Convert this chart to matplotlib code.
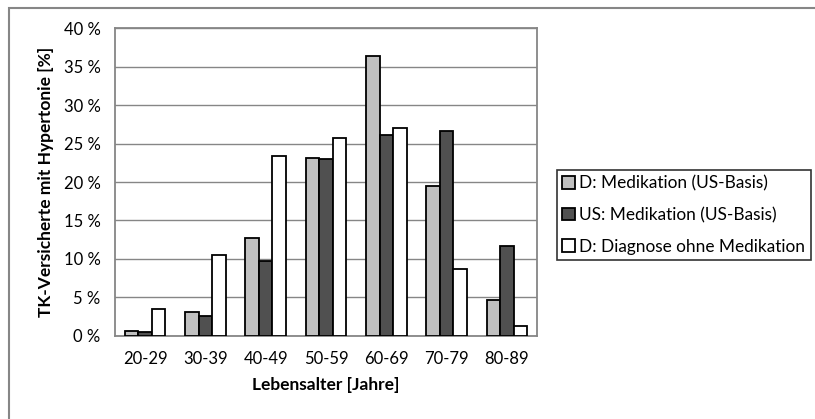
import matplotlib
matplotlib.use("Agg")
import matplotlib.pyplot as plt
from matplotlib.patches import Rectangle
import numpy as np

categories = ["20-29", "30-39", "40-49", "50-59", "60-69", "70-79", "80-89"]
d_medikation = [0.6, 3.1, 12.7, 23.1, 36.4, 19.5, 4.6]
us_medikation = [0.4, 2.5, 9.7, 23.0, 26.1, 26.7, 11.7]
d_diagnose = [3.4, 10.5, 23.4, 25.7, 27.1, 8.7, 1.3]
series_names = ["D: Medikation (US-Basis)", "US: Medikation (US-Basis)",
                "D: Diagnose ohne Medikation"]
series_colors = ["#C0C0C0", "#505050", "#FFFFFF"]
yticks = [0, 5, 10, 15, 20, 25, 30, 35, 40]

plt.rcParams['font.family'] = ['Lato', 'DejaVu Sans']

W, H = 815, 419
fig = plt.figure(figsize=(W / 100, H / 100), dpi=100)

# outer chart border (cropped at right/bottom in the reference)
fig.patches.append(Rectangle((9 / W, -0.1), 1.2, 1 - 8 / H + 0.1,
                             transform=fig.transFigure, fill=False,
                             edgecolor="#868686", linewidth=1.5))

ax = fig.add_axes([115 / W, 1 - 335.5 / H, (537 - 115) / W, (335.5 - 28.5) / H])

x = np.arange(len(categories))
bw = 0.225
data = [d_medikation, us_medikation, d_diagnose]
for i, (vals, name, col) in enumerate(zip(data, series_names, series_colors)):
    ax.bar(x + (i - 1) * bw, vals, width=bw, color=col, edgecolor="black",
           linewidth=1.3, label=name, zorder=3)

ax.set_xlim(-0.5, len(categories) - 0.5)
ax.set_ylim(0, 40)
ax.set_yticks(yticks)
ax.set_yticklabels([f"{t} %" for t in yticks])
ax.set_xticks(x)
ax.set_xticklabels(categories)
ax.tick_params(length=0, labelsize=12)
ax.tick_params(axis='y', pad=10.5)
ax.tick_params(axis='x', pad=11)
ax.yaxis.grid(True, color="#868686", linewidth=1.0, zorder=0)
for s in ax.spines.values():
    s.set_color("#868686")
    s.set_linewidth(1.3)

ax.set_xlabel("Lebensalter [Jahre]", fontsize=12.5, fontweight="bold", labelpad=7)
ax.set_ylabel("TK-Versicherte mit Hypertonie [%]", fontsize=12.5,
              fontweight="bold", labelpad=7)

leg = ax.legend(loc="center left", bbox_to_anchor=(557 / W, 1 - 215 / H),
                bbox_transform=fig.transFigure, frameon=True, fancybox=False,
                fontsize=12.4, handlelength=0.75, handleheight=0.75,
                handletextpad=0.25, labelspacing=0.9, borderpad=0.3,
                borderaxespad=0)
leg.get_frame().set_edgecolor("black")
leg.get_frame().set_linewidth(1.2)

fig.savefig("out.png", dpi=100)
